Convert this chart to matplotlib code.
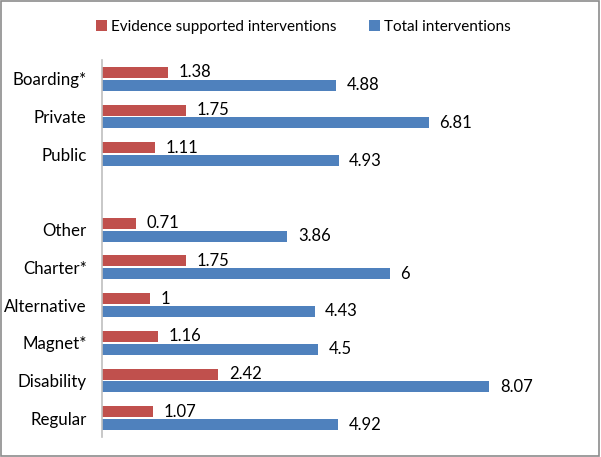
import matplotlib.pyplot as plt
import numpy as np

# categories from top to bottom, blank one makes the gap
categories = ['Boarding*', 'Private', 'Public', '', 'Other', 'Charter*',
              'Alternative', 'Magnet*', 'Disability', 'Regular']
evidence = [1.38, 1.75, 1.11, None, 0.71, 1.75, 1, 1.16, 2.42, 1.07]
total = [4.88, 6.81, 4.93, None, 3.86, 6, 4.43, 4.5, 8.07, 4.92]
evidence_labels = ['1.38', '1.75', '1.11', '', '0.71', '1.75', '1', '1.16', '2.42', '1.07']
total_labels = ['4.88', '6.81', '4.93', '', '3.86', '6', '4.43', '4.5', '8.07', '4.92']

plt.rcParams['font.family'] = ['Lato', 'DejaVu Sans']

red = '#C0504D'
blue = '#4F81BD'

fig = plt.figure(figsize=(6.01, 4.57), dpi=100)
ax = fig.add_axes([102 / 601, 20 / 457, 480 / 601, 377 / 457])

y = np.arange(len(categories))
h = 0.29
ev = [v if v is not None else 0 for v in evidence]
tv = [v if v is not None else 0 for v in total]
ev_bars = ax.barh(y - 0.17, ev, height=h, color=red, label='Evidence supported interventions')
tot_bars = ax.barh(y + 0.17, tv, height=h, color=blue, label='Total interventions')

for i in range(len(categories)):
    if evidence[i] is not None:
        ax.text(evidence[i] + 0.22, y[i] - 0.17, evidence_labels[i], va='center', ha='left', fontsize=12)
        ax.text(total[i] + 0.22, y[i] + 0.17, total_labels[i], va='center', ha='left', fontsize=12)

ax.set_yticks(y)
ax.set_yticklabels(categories, fontsize=12.2)
ax.tick_params(axis='y', length=0, pad=11)
ax.set_ylim(len(categories) - 0.5, -0.5)
ax.set_xlim(0, 10)
ax.set_xticks([])
for s in ['top', 'right', 'bottom']:
    ax.spines[s].set_visible(False)
ax.spines['left'].set_color('#BFBFBF')
ax.spines['left'].set_linewidth(1.2)

fig.legend(handles=[ev_bars, tot_bars], loc='center', bbox_to_anchor=(0.505, 1 - 27 / 457),
           ncol=2, frameon=False, fontsize=11, handlelength=0.7, handleheight=0.7,
           columnspacing=2.1, handletextpad=0.3)

# grey border round the whole picture
fig.patches.append(plt.Rectangle((0.002, 0.003), 0.995, 0.994, transform=fig.transFigure,
                                 fill=False, edgecolor='#8C8C8C', linewidth=1.2))

plt.savefig('out.png', dpi=100)
